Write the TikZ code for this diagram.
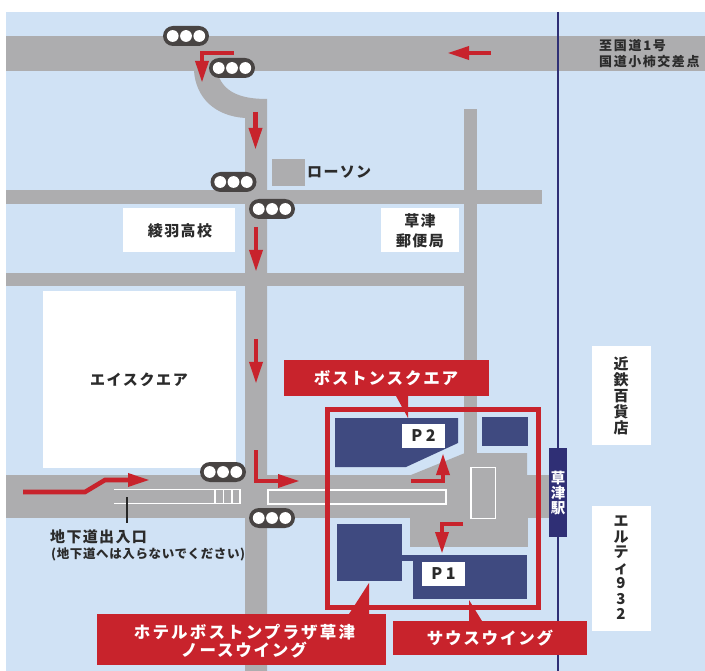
\documentclass[tikz,border=0pt]{standalone}
\usepackage{fontspec}
\usetikzlibrary{arrows.meta}
\newfontfamily\jp{Noto Sans CJK JP}
\setlength{\lineskiplimit}{-20pt}
\definecolor{skyc}{HTML}{D0E2F5}
\definecolor{roadc}{HTML}{ADADAF}
\definecolor{redc}{HTML}{C8232C}
\definecolor{bldc}{HTML}{3F4A80}
\definecolor{stnc}{HTML}{2F2F75}
\definecolor{txtc}{HTML}{2B2B2B}
\definecolor{lampc}{HTML}{484443}
\newcommand{\sig}[2]{%
  \fill[lampc,rounded corners=10pt] (#1-23,#2-10) rectangle (#1+23,#2+10);
  \fill[white] (#1-13.3,#2) circle (5.9) (#1,#2) circle (5.9) (#1+13.3,#2) circle (5.9);}
\tikzset{
  road/.style={fill=roadc,draw=none},
  bld/.style={fill=bldc,draw=none},
  whitebox/.style={fill=white,draw=none},
  redlabel/.style={fill=redc,draw=none},
  redarrow/.style={draw=redc,line width=4.6pt,-{Triangle[length=22pt,width=12.5pt]},line join=miter},
  lab/.style={font=\jp\bfseries\fontsize{15}{16}\selectfont\addfontfeature{LetterSpace=9},text=txtc,inner sep=0pt,align=center},
  wlab/.style={font=\jp\bfseries\fontsize{16.5}{18.5}\selectfont\addfontfeature{LetterSpace=11},text=white,inner sep=0pt,align=center},
}
\begin{document}
\begin{tikzpicture}[x=1pt,y=-1pt]
\useasboundingbox (0,0) rectangle (705,671);
\fill[white] (0,0) rectangle (705,671);
\fill[skyc] (6,12) rectangle (705,671);
% roads
\fill[road] (6,36) rectangle (705,71);
\fill[road] (194,71) .. controls (196,98) and (215,116) .. (245,118) -- (245,671) -- (267,671) -- (267,99)
  .. controls (240,99) and (222,92) .. (217,71) -- cycle;
\fill[road] (6,190) rectangle (542,204);
\fill[road] (6,273) rectangle (465,286);
\fill[road] (464,109) rectangle (477,460);
\fill[road] (6,475) rectangle (555,518);
\fill[road] (411,475) -- (465,453) -- (527,453) -- (527,475) -- cycle;
\fill[road] (410,518) -- (410,547) -- (528,547) -- (528,518) -- cycle;
% blue line
\draw[stnc,line width=2pt] (558,12) -- (558,671);
% white boxes
\fill[whitebox] (123,208) rectangle (235,252);
\fill[whitebox] (381,208) rectangle (459,252);
\fill[whitebox] (43,291) rectangle (236,468);
\fill[whitebox] (592,346) rectangle (651,445);
\fill[whitebox] (592,506) rectangle (651,631);
\fill[roadc] (272,159) rectangle (305,186);
% crosswalk markings
\draw[white,line width=1.7pt] (114,489.5) -- (240,489.5) -- (240,503.5) -- (114,503.5);
\draw[white,line width=1.7pt] (215,489.5) -- (215,503.5) (223.5,489.5) -- (223.5,503.5) (232,489.5) -- (232,503.5);
\draw[white,line width=1.7pt] (268,490) rectangle (446,504);
\draw[white,line width=1.7pt] (471,467.5) rectangle (495.5,518.5);
\draw[black!85,line width=2.8pt] (127,497) -- (127,523);
% buildings
\fill[bld] (335,418) -- (458,418) -- (458,443) -- (406,467) -- (335,467) -- cycle;
\fill[bld] (482,417) rectangle (528,446);
\fill[bld] (337,524) rectangle (402,581);
\fill[bld] (402,555) rectangle (413,561);
\fill[bld] (413,555) rectangle (527,599);
\fill[white] (402,424) rectangle (445,448);
\fill[white] (422,562) rectangle (465,586);
% frame
\draw[redc,line width=4.6pt] (327.3,409.3) rectangle (538.7,607.7);
% labels
\fill[redlabel] (284,360) rectangle (489,396);
\fill[redlabel] (396,396) -- (408,418) -- (408,396) -- cycle;
\fill[redlabel] (97,614) rectangle (386,665);
\fill[redlabel] (349,614) -- (369,583) -- (369,614) -- cycle;
\fill[redlabel] (393,621) rectangle (587,655);
\fill[redlabel] (469,600) -- (469,621) -- (482,621) -- cycle;
% station
\fill[stnc] (549,448) rectangle (567,537);
% arrows
\draw[redarrow] (491,53) -- (447,53);
\draw[redarrow] (234,53) -- (202,53) -- (202,83);
\draw[redarrow] (255.5,112) -- (255.5,150);
\draw[redarrow] (256,227) -- (256,272);
\draw[redarrow] (256,339) -- (256,384);
\draw[redarrow] (23,492) -- (85,492) -- (105,480) -- (150,480);
\draw[redarrow] (256,450) -- (256,481) -- (300,481);
\draw[redarrow] (411,481) -- (443,481) -- (443,453);
\draw[redarrow] (463,524) -- (442,524) -- (442,554);
% signals
\sig{186}{36}
\sig{232}{68}
\sig{233.5}{182}
\sig{272}{209}
\sig{223}{472}
\sig{272}{518}
% texts
\node[lab,font=\jp\bfseries\fontsize{13}{16}\selectfont\addfontfeature{LetterSpace=13},anchor=west] (t1) at (599,46) {至国道1号};
\node[lab,font=\jp\bfseries\fontsize{13}{16}\selectfont\addfontfeature{LetterSpace=12},anchor=west] (t2) at (599,62) {国道小柿交差点};
\node[lab,anchor=west] (t3) at (307,172.5) {ローソン};
\node[lab] (t4) at (180,230.5) {綾羽高校};
\node[lab] (t5) at (420,221) {草津};
\node[lab] (t6) at (420,241) {郵便局};
\node[lab,font=\jp\bfseries\fontsize{15}{16}\selectfont\addfontfeature{LetterSpace=11}] (t7) at (139,380) {エイスクエア};
\node[lab,anchor=west] (t8) at (50,537) {地下道出入口};
\node[lab,font=\jp\bfseries\fontsize{12.5}{13}\selectfont\addfontfeature{LetterSpace=5},anchor=west] (t9) at (51,554) {(地下道へは入らないでください)};
\node[wlab] (t10) at (386,378) {ボストンスクエア};
\node[wlab,font=\jp\bfseries\fontsize{16.5}{18.5}\selectfont\addfontfeature{LetterSpace=13}] (t11) at (244.5,632) {ホテルボストンプラザ草津};
\node[wlab] (t12) at (244,650) {ノースウイング};
\node[wlab] (t13) at (490,638) {サウスウイング};
\node[wlab,font=\jp\bfseries\fontsize{14.5}{14.6}\selectfont] (t14) at (558,493) {草\\津\\駅};
\node[lab,font=\jp\bfseries\fontsize{15}{16}\selectfont] (t15) at (621,396) {近\\鉄\\百\\貨\\店};
\node[lab,font=\jp\bfseries\fontsize{15}{15.5}\selectfont] (t16) at (621,568) {エ\\ル\\テ\\ィ\\9\\3\\2};
\node[lab,font=\jp\bfseries\fontsize{16}{18}\selectfont] (p2) at (423.5,436) {P 2};
\node[lab,font=\jp\bfseries\fontsize{16}{18}\selectfont] (p1) at (443.5,574) {P 1};
\end{tikzpicture}
\end{document}
